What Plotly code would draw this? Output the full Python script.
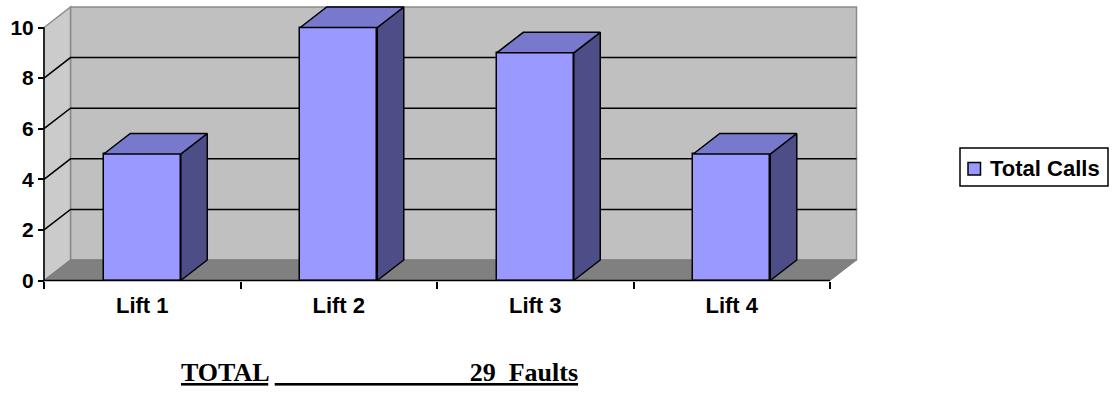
import plotly.graph_objects as go

# Chart data
categories = ["Lift 1", "Lift 2", "Lift 3", "Lift 4"]
total_calls = [5, 10, 9, 5]
y_ticks = [0, 2, 4, 6, 8, 10]
series_name = "Total Calls"
total_label = "TOTAL"
total_value = sum(total_calls)

# Pixel layout of the pseudo-3D frame (figure is 1112 x 393, no margins)
W, H = 1112, 393
X0_PX, CAT_PX = 44.0, 196.5        # left edge of category axis, px per category
Y0_PX, UNIT_PX = 280.5, 25.3       # baseline px, px per value unit
DEPTH_X = 26.5 / CAT_PX            # depth offset in category units
DEPTH_Y = 20.5 / UNIT_PX           # depth offset in value units
BAR_W = 0.392
Y_MAX = 10
N = len(categories)

x_range = [-X0_PX / CAT_PX, (W - X0_PX) / CAT_PX]
y_range = [(Y0_PX - H) / UNIT_PX, Y0_PX / UNIT_PX]

FRONT = "#9999ff"
TOP = "#7878cc"
SIDE = "#4d4d88"
EDGE = "#000000"
WALL_EDGE = "#8a8a8a"

SANS = "Liberation Sans, Arial, sans-serif"
SERIF = "Liberation Serif, Times New Roman, serif"

centers = [i + 0.5 for i in range(N)]

fig = go.Figure()

# Front faces of the bars
fig.add_trace(go.Bar(
    x=centers, y=total_calls, width=BAR_W, name=series_name,
    marker=dict(color=FRONT, line=dict(color=EDGE, width=1.5)),
    hoverinfo="skip", showlegend=False,
))

# Top and side faces, derived from each bar's value
for c, v in zip(centers, total_calls):
    x0, x1 = c - BAR_W / 2, c + BAR_W / 2
    fig.add_trace(go.Scatter(
        x=[x1, x1, x1 + DEPTH_X, x1 + DEPTH_X, x1],
        y=[0, v, v + DEPTH_Y, DEPTH_Y, 0],
        mode="lines", fill="toself", fillcolor=SIDE,
        line=dict(color=EDGE, width=1.5), hoverinfo="skip", showlegend=False,
    ))
    fig.add_trace(go.Scatter(
        x=[x0, x0 + DEPTH_X, x1 + DEPTH_X, x1, x0],
        y=[v, v + DEPTH_Y, v + DEPTH_Y, v, v],
        mode="lines", fill="toself", fillcolor=TOP,
        line=dict(color=EDGE, width=1.5), hoverinfo="skip", showlegend=False,
    ))


def poly(points):
    return "M " + " L ".join(f"{px},{py}" for px, py in points) + " Z"


def px_x(p):
    return p / W


def px_y(p):
    return 1 - p / H


shapes = []
# Back wall
shapes.append(dict(
    type="path", xref="x", yref="y", layer="below",
    path=poly([(DEPTH_X, DEPTH_Y), (DEPTH_X, Y_MAX + DEPTH_Y),
               (N + DEPTH_X, Y_MAX + DEPTH_Y), (N + DEPTH_X, DEPTH_Y)]),
    fillcolor="#c0c0c0", line=dict(color=WALL_EDGE, width=1.5),
))
# Side wall
shapes.append(dict(
    type="path", xref="x", yref="y", layer="below",
    path=poly([(0, 0), (0, Y_MAX), (DEPTH_X, Y_MAX + DEPTH_Y), (DEPTH_X, DEPTH_Y)]),
    fillcolor="#cbcbcb", line=dict(color=WALL_EDGE, width=1.5),
))
# Floor
shapes.append(dict(
    type="path", xref="x", yref="y", layer="below",
    path=poly([(0, 0), (N, 0), (N + DEPTH_X, DEPTH_Y), (DEPTH_X, DEPTH_Y)]),
    fillcolor="#808080", line=dict(color="#7a7a7a", width=1),
))
# Gridlines wrapping the side and back walls
for t in y_ticks:
    if t in (0, Y_MAX):
        continue
    shapes.append(dict(
        type="path", xref="x", yref="y", layer="below",
        path=f"M 0,{t} L {DEPTH_X},{t + DEPTH_Y} L {N + DEPTH_X},{t + DEPTH_Y}",
        line=dict(color="#000000", width=1.5),
    ))
# Front axis lines
shapes.append(dict(type="line", xref="x", yref="y", layer="above",
                   x0=0, y0=0, x1=0, y1=Y_MAX, line=dict(color="#000000", width=1.5)))
shapes.append(dict(type="line", xref="x", yref="y", layer="above",
                   x0=0, y0=0, x1=N, y1=0, line=dict(color="#000000", width=1.5)))

# Legend box with its swatch
shapes.append(dict(type="rect", xref="paper", yref="paper", layer="above",
                   x0=px_x(960), x1=px_x(1108), y0=px_y(186), y1=px_y(148),
                   fillcolor="#ffffff", line=dict(color="#000000", width=1.5)))
shapes.append(dict(type="rect", xref="paper", yref="paper", layer="above",
                   x0=px_x(968), x1=px_x(980.5), y0=px_y(175), y1=px_y(162.5),
                   fillcolor=FRONT, line=dict(color="#000000", width=1.5)))

nbsp = "\u00a0"
total_text = (f"<u>{total_label}</u> <u>{nbsp * 30}{total_value}{nbsp * 2}Faults</u>")

fig.update_layout(
    width=W, height=H,
    margin=dict(l=0, r=0, t=0, b=0, autoexpand=False),
    paper_bgcolor="#ffffff", plot_bgcolor="#ffffff",
    shapes=shapes,
    bargap=0,
    showlegend=False,
    xaxis=dict(
        range=x_range, domain=[0, 1], anchor="free", position=1 - Y0_PX / H,
        tickvals=centers, ticktext=categories, ticks="",
        showline=False, showgrid=False, zeroline=False,
        tickfont=dict(family=SANS, size=22, color="#000000", weight="bold"),
        ticklabelstandoff=9, fixedrange=True,
    ),
    xaxis2=dict(
        range=x_range, overlaying="x", anchor="free", position=1 - Y0_PX / H,
        side="bottom", tickvals=list(range(N + 1)), showticklabels=False,
        ticks="outside", ticklen=7, tickwidth=1.5, tickcolor="#000000",
        showline=False, showgrid=False, zeroline=False, fixedrange=True,
    ),
    yaxis=dict(
        range=y_range, domain=[0, 1], anchor="free", position=X0_PX / W,
        tickvals=y_ticks, ticks="outside", ticklen=6, tickwidth=1.5, tickcolor="#000000",
        showline=False, showgrid=False, zeroline=False,
        tickfont=dict(family=SANS, size=21, color="#000000", weight="bold"),
        fixedrange=True,
    ),
    annotations=[
        dict(
            x=px_x(988), y=px_y(168.5), xref="paper", yref="paper",
            xanchor="left", yanchor="middle", showarrow=False,
            text=series_name,
            font=dict(family=SANS, size=22, color="#000000", weight="bold"),
        ),
        dict(
            x=px_x(179), y=px_y(372), xref="paper", yref="paper",
            xanchor="left", yanchor="middle", showarrow=False,
            text=total_text,
            font=dict(family=SERIF, size=26, color="#000000", weight="bold"),
        ),
    ],
)

# Invisible trace so the overlaying x axis (boundary ticks) is rendered
fig.add_trace(go.Scatter(x=[0], y=[0], xaxis="x2", mode="markers",
                         marker=dict(opacity=0), hoverinfo="skip", showlegend=False))

fig.write_html("out.html", config={"displayModeBar": False})
